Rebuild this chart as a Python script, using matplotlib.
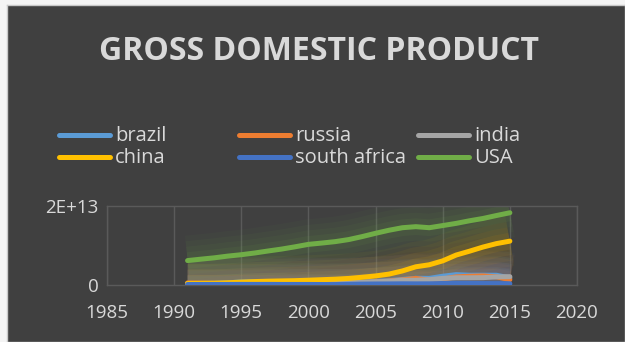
import matplotlib
matplotlib.use("Agg")
import matplotlib.pyplot as plt
from matplotlib.lines import Line2D

years = list(range(1991, 2016))
brazil = [0.407, 0.391, 0.438, 0.558, 0.769, 0.850, 0.883, 0.864, 0.600, 0.655, 0.560, 0.510, 0.558,
          0.669, 0.892, 1.108, 1.397, 1.696, 1.667, 2.209, 2.616, 2.465, 2.473, 2.456, 1.802]
russia = [0.518, 0.460, 0.435, 0.395, 0.396, 0.392, 0.405, 0.271, 0.196, 0.260, 0.307, 0.345, 0.430,
          0.591, 0.764, 0.990, 1.300, 1.661, 1.223, 1.525, 2.046, 2.208, 2.292, 2.059, 1.363]
india = [0.270, 0.288, 0.279, 0.327, 0.360, 0.392, 0.415, 0.421, 0.459, 0.468, 0.485, 0.515, 0.608,
         0.709, 0.820, 0.940, 1.217, 1.199, 1.342, 1.676, 1.823, 1.828, 1.857, 2.039, 2.104]
china = [0.383, 0.427, 0.445, 0.564, 0.734, 0.863, 0.962, 1.029, 1.094, 1.211, 1.339, 1.471, 1.660,
         1.955, 2.286, 2.752, 3.550, 4.594, 5.102, 6.087, 7.552, 8.532, 9.570, 10.44, 11.06]
south_africa = [0.120, 0.130, 0.134, 0.139, 0.155, 0.147, 0.153, 0.138, 0.136, 0.136, 0.121, 0.116, 0.176,
                0.229, 0.258, 0.272, 0.299, 0.287, 0.297, 0.375, 0.417, 0.397, 0.367, 0.351, 0.318]
usa = [6.16, 6.52, 6.86, 7.29, 7.64, 8.07, 8.58, 9.06, 9.63, 10.25, 10.58, 10.94, 11.46, 12.21, 13.04,
       13.81, 14.45, 14.71, 14.45, 14.99, 15.54, 16.20, 16.78, 17.52, 18.22]

series_names = ["brazil", "russia", "india", "china", "south africa", "USA"]
series_values = [brazil, russia, india, china, south_africa, usa]
colors = ["#5B9BD5", "#ED7D31", "#A5A5A5", "#FFC000", "#4472C4", "#70AD47"]
x_ticks = [1985, 1990, 1995, 2000, 2005, 2010, 2015, 2020]
y_ticks = [0, 2e13]
y_tick_labels = ["0", "2E+13"]

bg = "#404040"
txt = "#D9D9D9"
font = "Open Sans"
W, H = 625, 342

fig = plt.figure(figsize=(6.25, 3.42), dpi=100)
fig.patch.set_facecolor("#F4F4F4")

bgax = fig.add_axes([7 / W, 0, 1 - 7 / W, 1 - 5 / H])
bgax.set_facecolor(bg)
bgax.set_xticks([])
bgax.set_yticks([])
for s in bgax.spines.values():
    s.set_color("#C8C8C8")
    s.set_linewidth(1.0)
bgax.set_xlim(0, 1)
bgax.set_ylim(0, 1)

ax = fig.add_axes([107 / W, 1 - 285 / H, (577 - 107) / W, (285 - 205.7) / H])
ax.patch.set_alpha(0)

scale = 1e12
for name, vals, c in zip(series_names, series_values, colors):
    v = [val * scale for val in vals]
    for lw, a in [(36, 0.04), (28, 0.05), (20, 0.06), (12, 0.08)]:
        ax.plot(years, v, color=c, lw=lw, alpha=a, solid_capstyle="butt", zorder=2)

lines = []
for name, vals, c in zip(series_names, series_values, colors):
    v = [val * scale for val in vals]
    ln, = ax.plot(years, v, color=c, lw=3.6, solid_capstyle="round", zorder=3, label=name)
    lines.append(ln)

ax.set_xlim(1985, 2020)
ax.set_ylim(0, 2e13)
ax.set_xticks(x_ticks)
ax.set_yticks(y_ticks)
ax.set_yticklabels(y_tick_labels)
ax.grid(axis="x", color="#5A5A5A", lw=1.0)
for s in ax.spines.values():
    s.set_color("#5A5A5A")
    s.set_linewidth(1.0)
ax.tick_params(length=0, colors=txt, labelsize=13.5)
ax.tick_params(axis="x", pad=14)
ax.tick_params(axis="y", pad=6)
for lab in ax.get_xticklabels() + ax.get_yticklabels():
    lab.set_fontfamily(font)
    lab.set_color(txt)

fig.text(0.51, 1 - 51 / H, "GROSS DOMESTIC PRODUCT", ha="center", va="center",
         fontsize=23, fontweight="bold", color=txt, fontfamily=font)

# legend laid out in a fixed grid like the original
col_x = [57, 237, 416]
row_y = [135, 157]
for i, (ln, name) in enumerate(zip(lines, series_names)):
    r, cidx = divmod(i, 3)
    x0 = col_x[cidx]
    y0 = 1 - row_y[r] / H
    fig.add_artist(Line2D([(x0 + 2) / W, (x0 + 53) / W], [y0, y0], transform=fig.transFigure,
                          color=ln.get_color(), lw=3.6, solid_capstyle="round"))
    fig.text((x0 + 58) / W, y0 - 1 / H, name, ha="left", va="center", fontsize=14.5,
             color=txt, fontfamily=font)

fig.savefig("out.png", dpi=100, facecolor=fig.get_facecolor())
